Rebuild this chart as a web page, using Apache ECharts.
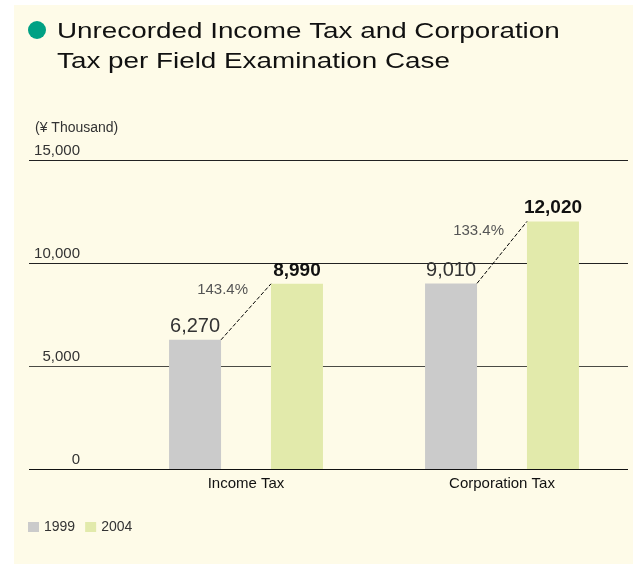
<!DOCTYPE html>
<html>
<head>
<meta charset="utf-8">
<script src="https://cdn.jsdelivr.net/npm/echarts@6/dist/echarts.min.js"></script>
<style>
  html, body { margin: 0; padding: 0; background: #ffffff; }
  #chart { width: 633px; height: 564px; }
</style>
</head>
<body>
<div id="chart"></div>
<script>
// data
const categories = ["Income Tax", "Corporation Tax"];
const years = ["1999", "2004"];
const values1999 = [6270, 9010];
const values2004 = [8990, 12020];
const growthLabels = ["143.4%", "133.4%"];
const yTicks = [0, 5000, 10000, 15000];

const FONT = "'Liberation Sans', Arial, sans-serif";
const GRAY = "#cbcbcb";
const GREEN = "#e2eaab";

let chart = echarts.init(document.getElementById("chart"));

// half the gap between the two bars of a category (barGap 50px)
const HALF_GAP = 25;

let option = {
  animation: false,
  textStyle: { fontFamily: FONT },
  color: [GRAY, GREEN],
  graphic: [
    {
      type: "rect",
      z: -10,
      silent: true,
      shape: { x: 14, y: 5, width: 619, height: 559 },
      style: { fill: "#fefbe8" }
    },
    {
      type: "circle",
      shape: { cx: 37, cy: 30, r: 9 },
      style: { fill: "#00a184" }
    },
    {
      type: "text",
      x: 57,
      y: 17,
      scaleX: 1.265,
      style: {
        text: "Unrecorded Income Tax and Corporation\nTax per Field Examination Case",
        font: "22px " + FONT,
        lineHeight: 30,
        fill: "#111111",
        textAlign: "left",
        textVerticalAlign: "top"
      }
    }
  ],
  legend: {
    data: years,
    left: 28,
    top: 520,
    padding: 0,
    itemWidth: 11,
    itemHeight: 10,
    itemGap: 10,
    icon: "rect",
    textStyle: { fontSize: 14, color: "#333333", fontFamily: FONT }
  },
  grid: [
    // grid for the value gridlines and labels
    { left: 29, right: 5, top: 160, bottom: 95 },
    // grid for the bars
    { left: 118, right: 3, top: 160, bottom: 95 }
  ],
  xAxis: [
    { gridIndex: 0, type: "value", show: false, min: 0, max: 1 },
    {
      gridIndex: 1,
      type: "category",
      data: categories,
      axisLine: { show: false },
      axisTick: { show: false },
      axisLabel: { fontSize: 15, color: "#111111", margin: 7, fontFamily: FONT }
    }
  ],
  yAxis: [
    {
      gridIndex: 0,
      type: "value",
      min: 0,
      max: 15000,
      interval: 5000,
      name: "(¥ Thousand)",
      nameLocation: "end",
      nameGap: 25,
      nameTextStyle: { align: "left", fontSize: 14, color: "#333333", padding: [0, 0, 0, 6], fontFamily: FONT },
      axisLine: { show: false },
      axisTick: { show: false },
      splitLine: {
        show: true,
        lineStyle: { color: ["#111111", "#4a4a44", "#222222", "#222222"], width: 1.2 }
      },
      axisLabel: {
        inside: true,
        margin: 51,
        align: "right",
        verticalAlign: "bottom",
        lineHeight: 16,
        padding: [0, 0, 1, 0],
        fontSize: 15,
        color: "#333333",
        fontFamily: FONT,
        formatter: v => v.toLocaleString("en-US")
      }
    },
    { gridIndex: 1, type: "value", min: 0, max: 15000, interval: 5000, show: false }
  ],
  series: [
    {
      name: years[0],
      type: "bar",
      xAxisIndex: 1,
      yAxisIndex: 1,
      barWidth: 52,
      barGap: "96%",
      data: values1999,
      itemStyle: { color: GRAY },
      label: {
        show: true,
        position: "top",
        distance: 3,
        fontSize: 20,
        color: "#333333",
        fontFamily: FONT,
        formatter: p => p.value.toLocaleString("en-US")
      }
    },
    {
      name: years[1],
      type: "bar",
      xAxisIndex: 1,
      yAxisIndex: 1,
      barWidth: 52,
      data: values2004,
      itemStyle: { color: GREEN },
      label: {
        show: true,
        position: "top",
        distance: 4,
        fontSize: 19,
        fontWeight: "bold",
        color: "#111111",
        fontFamily: FONT,
        formatter: p => p.value.toLocaleString("en-US")
      }
    },
    {
      // dashed connectors and growth labels
      type: "custom",
      xAxisIndex: 1,
      yAxisIndex: 1,
      silent: true,
      z: 5,
      clip: false,
      data: categories.map((c, i) => [i, values1999[i], values2004[i]]),
      encode: { x: 0, y: [1, 2] },
      renderItem: (params, api) => {
        let a = api.coord([api.value(0), api.value(1)]);
        let b = api.coord([api.value(0), api.value(2)]);
        let x1 = a[0] - HALF_GAP;
        let x2 = b[0] + HALF_GAP;
        let mx = (x1 + x2) / 2;
        let my = (a[1] + b[1]) / 2;
        return {
          type: "group",
          children: [
            {
              type: "line",
              shape: { x1: x1, y1: a[1], x2: x2, y2: b[1] },
              style: { stroke: "#000000", lineWidth: 1, lineDash: [4, 2] }
            },
            {
              type: "text",
              x: mx + 2,
              y: my - 14,
              style: {
                text: growthLabels[params.dataIndex],
                font: "15px " + FONT,
                fill: "#555555",
                textAlign: "right",
                textVerticalAlign: "bottom"
              }
            }
          ]
        };
      }
    }
  ]
};

chart.setOption(option);
</script>
</body>
</html>
